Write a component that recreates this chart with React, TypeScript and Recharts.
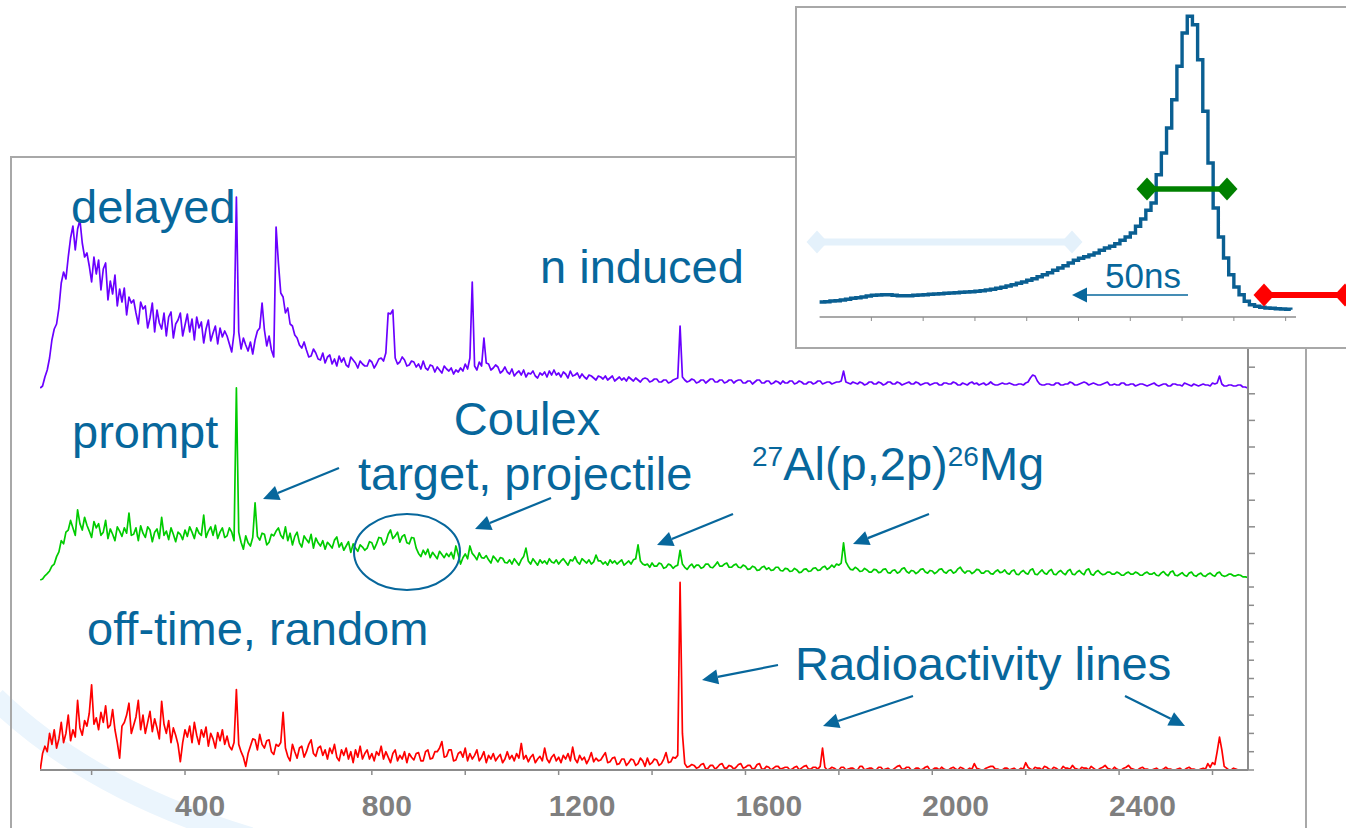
import { Line, LineChart, XAxis, YAxis } from "recharts";

const FONT = "'Liberation Sans', Arial, Helvetica, sans-serif";
const TEXT_BLUE = "#07679c";
const AXIS_GREY = "#8c8c8c";
const FRAME_GREY = "#a8a8a8";

// gamma spectra, 5 keV channels starting at 90 keV (one row = 100 keV)
const CHANNEL_START_KEV = 90;
const CHANNEL_WIDTH_KEV = 5;

const delayedCounts = [
  0, 4, 22, 36, 60, 96, 118, 128, 160, 210, 232, 218, 262, 300, 324, 276, 318, 336, 290, 262,
  270, 244, 212, 262, 228, 256, 196, 238, 250, 176, 214, 188, 226, 164, 198, 172, 200, 146, 182, 170,
  176, 150, 128, 172, 158, 164, 120, 140, 170, 112, 156, 130, 118, 150, 104, 142, 152, 100, 128, 136,
  150, 104, 126, 148, 112, 138, 96, 142, 120, 132, 90, 118, 136, 94, 110, 124, 88, 120, 102, 114,
  104, 88, 72, 110, 382, 112, 78, 100, 86, 74, 92, 68, 96, 114, 120, 170, 116, 84, 104, 76,
  62, 322, 250, 190, 182, 150, 160, 128, 124, 106, 100, 86, 80, 92, 76, 62, 64, 78, 70, 58,
  56, 70, 50, 62, 66, 48, 58, 44, 64, 52, 60, 46, 42, 62, 56, 50, 40, 54, 48, 44,
  44, 56, 52, 40, 48, 58, 60, 54, 70, 150, 148, 156, 60, 48, 52, 62, 56, 44, 46, 54,
  52, 42, 48, 38, 54, 40, 36, 46, 44, 32, 42, 36, 30, 44, 38, 34, 40, 28, 36, 32,
  40, 34, 48, 38, 60, 212, 44, 36, 52, 44, 100, 50, 48, 36, 40, 46, 42, 30, 34, 42,
  32, 28, 38, 24, 30, 34, 26, 36, 22, 30, 28, 34, 24, 20, 30, 26, 32, 22, 34, 26,
  36, 26, 30, 22, 32, 28, 20, 34, 24, 26, 30, 20, 28, 22, 18, 26, 24, 20, 16, 24,
  22, 18, 24, 16, 20, 24, 14, 18, 22, 16, 20, 14, 22, 18, 14, 20, 16, 12, 18, 20,
  18, 12, 14, 18, 18, 12, 12, 16, 16, 10, 12, 16, 18, 20, 124, 22, 16, 12, 14, 18,
  16, 10, 12, 16, 16, 10, 14, 18, 18, 12, 12, 16, 16, 10, 12, 16, 16, 10, 14, 16,
  16, 10, 10, 14, 14, 8, 12, 16, 16, 10, 10, 14, 14, 8, 10, 14, 12, 8, 14, 10,
  10, 14, 14, 8, 10, 14, 12, 8, 8, 12, 12, 8, 10, 14, 14, 8, 10, 12, 12, 8,
  10, 12, 12, 14, 34, 12, 10, 8, 12, 10, 8, 12, 10, 6, 8, 12, 12, 8, 8, 12,
  10, 6, 8, 12, 12, 8, 8, 12, 10, 6, 8, 10, 12, 8, 8, 12, 10, 6, 8, 10,
  10, 6, 8, 10, 10, 6, 6, 10, 10, 8, 8, 12, 10, 6, 6, 10, 8, 6, 10, 12,
  8, 10, 6, 8, 10, 6, 8, 12, 8, 6, 6, 8, 10, 8, 8, 10, 8, 6, 6, 8,
  8, 6, 10, 12, 20, 26, 24, 14, 8, 6, 6, 8, 8, 6, 6, 10, 10, 6, 6, 8,
  8, 12, 10, 6, 6, 8, 10, 12, 10, 6, 8, 10, 8, 6, 6, 8, 10, 12, 6, 6,
  8, 6, 6, 10, 10, 6, 6, 8, 8, 4, 6, 8, 8, 6, 4, 6, 8, 10, 6, 4,
  6, 8, 8, 4, 4, 8, 8, 6, 6, 4, 10, 8, 6, 4, 8, 6, 4, 6, 8, 6,
  6, 4, 10, 8, 10, 24, 8, 4, 4, 6, 6, 4, 4, 6, 6, 2, 2, 0,
];

const promptCounts = [
  0, 2, 8, 12, 17, 26, 30, 44, 53, 74, 68, 90, 94, 112, 98, 84, 132, 106, 94, 118,
  103, 92, 80, 110, 98, 106, 84, 90, 112, 78, 96, 86, 74, 100, 92, 82, 98, 88, 126, 84,
  86, 98, 74, 102, 88, 80, 100, 94, 72, 90, 96, 78, 118, 84, 92, 76, 98, 86, 72, 90,
  86, 76, 94, 82, 100, 90, 78, 98, 88, 84, 122, 80, 92, 100, 84, 103, 78, 90, 98, 80,
  83, 98, 90, 74, 361, 90, 71, 58, 83, 70, 64, 80, 145, 82, 75, 88, 86, 66, 71, 86,
  83, 92, 98, 84, 78, 100, 74, 88, 66, 82, 90, 70, 62, 83, 76, 70, 86, 60, 79, 70,
  64, 74, 58, 71, 66, 60, 75, 81, 62, 70, 56, 64, 72, 52, 68, 60, 54, 66, 62, 56,
  60, 72, 70, 58, 68, 80, 79, 66, 71, 86, 94, 78, 83, 90, 71, 82, 85, 70, 68, 80,
  79, 60, 50, 44, 56, 48, 58, 42, 52, 46, 40, 54, 48, 42, 50, 44, 52, 40, 64, 48,
  30, 42, 49, 40, 64, 50, 45, 38, 51, 42, 41, 46, 38, 32, 45, 40, 34, 42, 41, 33,
  32, 38, 30, 40, 34, 28, 38, 44, 60, 36, 30, 40, 34, 28, 38, 32, 36, 30, 40, 34,
  32, 38, 30, 36, 40, 34, 28, 38, 36, 44, 34, 30, 40, 36, 32, 38, 30, 34, 47, 36,
  36, 30, 34, 28, 38, 32, 36, 30, 34, 38, 28, 32, 36, 30, 38, 40, 66, 36, 30, 28,
  30, 24, 32, 26, 26, 32, 30, 22, 24, 30, 28, 22, 26, 28, 56, 30, 24, 20, 26, 30,
  23, 28, 28, 22, 24, 30, 30, 24, 23, 28, 34, 26, 26, 30, 32, 24, 24, 28, 30, 24,
  23, 28, 26, 20, 21, 26, 24, 18, 19, 24, 26, 20, 23, 18, 19, 24, 24, 18, 17, 22,
  21, 16, 17, 22, 19, 14, 15, 20, 21, 16, 17, 22, 23, 18, 19, 24, 26, 20, 23, 28,
  24, 30, 28, 32, 70, 34, 26, 20, 19, 24, 21, 16, 17, 22, 19, 15, 15, 20, 19, 14,
  15, 20, 21, 14, 13, 18, 19, 13, 15, 21, 23, 16, 13, 18, 17, 12, 15, 20, 21, 15,
  13, 18, 17, 12, 15, 20, 21, 15, 13, 18, 19, 13, 15, 21, 24, 17, 13, 17, 17, 12,
  15, 20, 19, 13, 13, 17, 17, 12, 11, 16, 19, 14, 15, 19, 13, 11, 17, 19, 11, 10,
  15, 18, 13, 11, 19, 21, 11, 10, 15, 19, 13, 11, 17, 20, 11, 10, 15, 18, 13, 10,
  17, 20, 11, 10, 15, 18, 13, 10, 19, 21, 11, 9, 15, 18, 13, 10, 11, 15, 15, 11,
  11, 15, 13, 9, 9, 13, 15, 11, 11, 15, 13, 9, 9, 13, 15, 11, 11, 14, 9, 8,
  13, 16, 11, 8, 15, 17, 9, 8, 11, 14, 9, 7, 13, 15, 9, 7, 11, 13, 8, 7,
  11, 13, 9, 7, 13, 15, 9, 7, 8, 11, 11, 8, 8, 10, 9, 6, 6, 5,
];

const offTimeCounts = [
  0, 18, 26, 20, 40, 28, 44, 24, 34, 52, 30, 40, 60, 32, 44, 36, 76, 46, 38, 54,
  48, 62, 93, 50, 57, 44, 63, 52, 70, 46, 49, 66, 44, 30, 13, 48, 52, 60, 73, 40,
  49, 58, 76, 44, 60, 40, 52, 64, 42, 56, 46, 34, 75, 50, 40, 54, 30, 46, 38, 28,
  9, 30, 44, 36, 48, 30, 52, 38, 28, 44, 36, 47, 26, 40, 34, 24, 41, 32, 44, 28,
  37, 26, 22, 30, 88, 28, 20, 14, 4, 18, 26, 34, 33, 22, 39, 28, 24, 32, 33, 20,
  17, 28, 26, 30, 63, 24, 15, 10, 28, 20, 13, 24, 26, 14, 20, 28, 33, 18, 15, 24,
  26, 16, 22, 12, 24, 18, 28, 14, 10, 22, 16, 24, 12, 20, 8, 22, 14, 26, 12, 18,
  22, 12, 18, 10, 20, 16, 26, 12, 20, 14, 8, 18, 22, 10, 16, 12, 20, 8, 18, 14,
  11, 18, 19, 10, 10, 20, 22, 12, 13, 20, 20, 24, 31, 14, 15, 22, 22, 10, 11, 18,
  20, 14, 24, 10, 18, 12, 16, 22, 10, 14, 20, 8, 16, 12, 18, 10, 14, 17, 8, 12,
  20, 12, 16, 10, 18, 13, 29, 12, 16, 9, 14, 17, 8, 12, 15, 10, 24, 12, 8, 14,
  17, 10, 14, 8, 16, 12, 18, 10, 25, 12, 8, 16, 11, 14, 7, 12, 19, 9, 13, 10,
  11, 15, 19, 8, 9, 13, 14, 6, 7, 12, 12, 5, 8, 12, 11, 5, 7, 13, 10, 4,
  13, 6, 8, 12, 11, 5, 7, 12, 19, 8, 9, 14, 13, 16, 205, 40, 7, 3, 4, 6,
  5, 2, 3, 6, 7, 1, 2, 5, 5, 1, 3, 6, 7, 2, 2, 5, 4, 1, 3, 6,
  7, 2, 3, 5, 5, 1, 2, 6, 7, 1, 1, 4, 3, 0, 2, 4, 4, 1, 2, 3,
  3, 0, 1, 3, 4, 0, 2, 4, 5, 1, 1, 3, 3, 1, 4, 24, 3, 0, 1, 3,
  2, 0, 0, 3, 3, 0, 1, 2, 2, 0, 0, 4, 4, 0, 1, 2, 2, 0, 0, 3,
  3, 0, 1, 2, 0, 0, 2, 4, 5, 1, 1, 3, 3, 0, 0, 2, 2, 0, 1, 3,
  4, 0, 0, 2, 2, 0, 3, 1, 0, 0, 2, 3, 1, 0, 3, 2, 0, 0, 2, 1,
  7, 2, 1, 0, 0, 2, 3, 4, 4, 1, 1, 0, 0, 2, 2, 0, 1, 2, 0, 0,
  2, 1, 8, 3, 1, 0, 3, 2, 2, 0, 4, 3, 1, 0, 3, 2, 0, 0, 4, 2,
  2, 1, 5, 2, 1, 0, 3, 2, 2, 0, 4, 2, 0, 0, 2, 3, 5, 2, 1, 0,
  3, 1, 0, 0, 2, 3, 5, 2, 1, 0, 0, 2, 3, 1, 1, 0, 0, 1, 2, 0,
  0, 1, 3, 1, 1, 0, 0, 1, 2, 0, 0, 2, 3, 1, 1, 0, 0, 1, 2, 1,
  7, 3, 8, 6, 20, 36, 22, 4, 2, 0, 0, 2, 1, 0, 0, 0, 0, 0,
];

const energyTicks = [200, 400, 600, 800, 1000, 1200, 1400, 1600, 1800, 2000, 2200, 2400, 2600];
const promptTicks = [50, 100, 150, 200, 250, 300, 350, 400, 450, 500, 550, 600, 650, 700, 750];
const offTimeTicks = [0, 20, 40, 60, 80, 100, 120, 140, 160, 180, 200];

// inset: timing distribution, 2 ns bins
const TIME_BIN_NS = 2;
const timeCounts = [
  150, 153, 160, 163, 170, 177, 187, 193, 200, 210,
  217, 220, 223, 223, 217, 213, 213, 213, 217, 220,
  223, 227, 230, 233, 237, 240, 243, 247, 250, 253,
  257, 263, 270, 277, 287, 297, 310, 323, 337, 350,
  367, 383, 403, 423, 443, 467, 490, 513, 540, 567,
  587, 603, 620, 640, 667, 690, 707, 733, 767, 800,
  840, 907, 980, 1067, 1140, 1423, 1640, 1890, 2173, 2507,
  2840, 3007, 2923, 2573, 2057, 1540, 1090, 800, 590, 423,
  300, 223, 157, 123, 107, 97, 90, 87, 83, 80,
  77, 73,
];
const timeTicks = [20, 40, 60, 80, 100, 120, 140, 160, 180];

const spectrum = delayedCounts.map((d, i) => ({
  energy: CHANNEL_START_KEV + i * CHANNEL_WIDTH_KEV,
  delayed: d,
  prompt: promptCounts[i],
  offTime: offTimeCounts[i],
}));

const timeRows = timeCounts.map((c, i) => ({ t: i * TIME_BIN_NS, counts: c }));

function EnergyTick(props: any) {
  const { x, y, payload } = props;
  if (payload.value % 400 !== 0) return <g />;
  return (
    <text x={x - 10} y={y + 39} textAnchor="start" fontSize={30} fontWeight="bold" fill="#7f7f7f" fontFamily={FONT}>
      {payload.value}
    </text>
  );
}

// tick marks only, no labels
function NoLabel() {
  return <g />;
}

function Arrow({ x1, y1, x2, y2, w = 2.2, head = 16, half = 7.5 }: { x1: number; y1: number; x2: number; y2: number; w?: number; head?: number; half?: number }) {
  const dx = x2 - x1;
  const dy = y2 - y1;
  const len = Math.hypot(dx, dy);
  const ux = dx / len;
  const uy = dy / len;
  const bx = x2 - ux * head;
  const by = y2 - uy * head;
  const px = -uy * half;
  const py = ux * half;
  return (
    <g>
      <line x1={x1} y1={y1} x2={bx} y2={by} stroke={TEXT_BLUE} strokeWidth={w} />
      <polygon points={`${x2},${y2} ${bx + px},${by + py} ${bx - px},${by - py}`} fill={TEXT_BLUE} />
    </g>
  );
}

function DiamondBar({ x1, x2, y, colour, w }: { x1: number; x2: number; y: number; colour: string; w: number }) {
  const d = (cx: number) => `${cx - 10.5},${y} ${cx},${y - 11.5} ${cx + 10.5},${y} ${cx},${y + 11.5}`;
  return (
    <g>
      <line x1={x1} y1={y} x2={x2} y2={y} stroke={colour} strokeWidth={w} />
      <polygon points={d(x1)} fill={colour} />
      <polygon points={d(x2)} fill={colour} />
    </g>
  );
}

function SpectrumChart() {
  return (
    <LineChart width={1346} height={828} data={spectrum} margin={{ top: 157, right: 96, bottom: 0, left: 40 }}>
      <XAxis
        dataKey="energy"
        type="number"
        domain={[89.5, 2676]}
        ticks={energyTicks}
        interval={0}
        height={58}
        tickSize={5}
        axisLine={{ stroke: AXIS_GREY, strokeWidth: 2 }}
        tickLine={{ stroke: AXIS_GREY, strokeWidth: 1.5 }}
        tick={<EnergyTick />}
        allowDataOverflow
      />
      <YAxis yAxisId="delayed" hide domain={[-764, 462]} allowDataOverflow />
      <YAxis
        yAxisId="offTime"
        orientation="right"
        width={1}
        domain={[0, 670]}
        ticks={offTimeTicks}
        interval={0}
        tick={<NoLabel />}
        tickSize={6}
        axisLine={{ stroke: AXIS_GREY, strokeWidth: 2 }}
        tickLine={{ stroke: AXIS_GREY, strokeWidth: 1.5 }}
        allowDataOverflow
      />
      <YAxis
        yAxisId="prompt"
        orientation="right"
        width={1}
        domain={[-357, 795]}
        ticks={promptTicks}
        interval={0}
        tick={<NoLabel />}
        tickSize={6}
        axisLine={false}
        tickLine={{ stroke: AXIS_GREY, strokeWidth: 1.5 }}
        allowDataOverflow
      />
      <Line yAxisId="delayed" dataKey="delayed" type="linear" stroke="#6a00ff" strokeWidth={1.7} strokeLinejoin="round" dot={false} activeDot={false} isAnimationActive={false} />
      <Line yAxisId="prompt" dataKey="prompt" type="linear" stroke="#00cc00" strokeWidth={1.7} strokeLinejoin="round" dot={false} activeDot={false} isAnimationActive={false} />
      <Line yAxisId="offTime" dataKey="offTime" type="linear" stroke="#ff0000" strokeWidth={1.7} strokeLinejoin="round" dot={false} activeDot={false} isAnimationActive={false} />
    </LineChart>
  );
}

function TimeInset() {
  return (
    <div
      style={{
        position: "absolute",
        left: 795,
        top: 6,
        width: 620,
        height: 343,
        border: `2px solid ${FRAME_GREY}`,
        background: "#fff",
        boxSizing: "border-box",
      }}
    >
      <div style={{ position: "absolute", left: -2, top: -2 }}>
        <LineChart width={600} height={343} data={timeRows} margin={{ top: 10, right: 99, bottom: 0, left: 24.6 }}>
          <XAxis
            dataKey="t"
            type="number"
            domain={[0, 184]}
            ticks={timeTicks}
            interval={0}
            tick={<NoLabel />}
            tickSize={4}
            height={32}
            axisLine={{ stroke: AXIS_GREY, strokeWidth: 1.5 }}
            tickLine={{ stroke: AXIS_GREY }}
          />
          <YAxis hide domain={[0, 3010]} />
          <Line type="stepAfter" dataKey="counts" stroke="#0a5f92" strokeWidth={3.4} dot={false} activeDot={false} isAnimationActive={false} />
        </LineChart>
      </div>
    </div>
  );
}

export default function App() {
  return (
    <div style={{ position: "absolute", left: 0, top: 0, width: 1346, height: 828, overflow: "hidden", background: "#fff", fontFamily: FONT }}>
      <svg width={1346} height={828} style={{ position: "absolute", left: 0, top: 0 }}>
        <path d="M -5 698 Q 90 790 250 838" stroke="#ebf5fd" strokeWidth={22} fill="none" />
      </svg>
      <div
        style={{
          position: "absolute",
          left: 10,
          top: 156,
          width: 1297,
          height: 700,
          borderLeft: `2px solid ${FRAME_GREY}`,
          borderTop: `2px solid ${FRAME_GREY}`,
          borderRight: `2px solid ${FRAME_GREY}`,
          boxSizing: "border-box",
        }}
      />
      <div style={{ position: "absolute", left: 0, top: 0 }}>
        <SpectrumChart />
      </div>
      <svg width={1346} height={828} style={{ position: "absolute", left: 0, top: 0 }} fontFamily={FONT}>
        <g fill={TEXT_BLUE} fontSize={47}>
          <text x={71} y={223}>delayed</text>
          <text x={540} y={283}>n induced</text>
          <text x={72} y={448}>prompt</text>
          <text x={527} y={435} textAnchor="middle">Coulex</text>
          <text x={358} y={490}>target, projectile</text>
          <text x={752} y={480}>
            <tspan fontSize={28} dy={-14}>27</tspan>
            <tspan dy={14}>Al(p,2p)</tspan>
            <tspan fontSize={28} dy={-14}>26</tspan>
            <tspan dy={14}>Mg</tspan>
          </text>
          <text x={87} y={645}>off-time, random</text>
          <text x={795} y={680}>Radioactivity lines</text>
        </g>
        <ellipse cx={407} cy={552} rx={53} ry={38} fill="none" stroke={TEXT_BLUE} strokeWidth={2} />
        <Arrow x1={339} y1={468} x2={263} y2={499} />
        <Arrow x1={551} y1={498} x2={475} y2={529} />
        <Arrow x1={733} y1={514} x2={657} y2={545} />
        <Arrow x1={929} y1={514} x2={853} y2={544} />
        <Arrow x1={778} y1={665} x2={702} y2={680} />
        <Arrow x1={913} y1={696} x2={823} y2={726} />
        <Arrow x1={1125} y1={696} x2={1185} y2={726} />
      </svg>
      <TimeInset />
      <svg width={1346} height={828} style={{ position: "absolute", left: 0, top: 0 }} fontFamily={FONT}>
        <DiamondBar x1={817} x2={1072} y={242} colour="#e4f1fb" w={7} />
        <DiamondBar x1={1147} x2={1227} y={189} colour="#008000" w={5.5} />
        <DiamondBar x1={1264} x2={1345} y={295} colour="#ff0000" w={6} />
        <text x={1105} y={288} fontSize={35} fill={TEXT_BLUE}>50ns</text>
        <Arrow x1={1188} y1={295} x2={1072} y2={295} w={1.6} head={15} half={7.5} />
      </svg>
    </div>
  );
}
